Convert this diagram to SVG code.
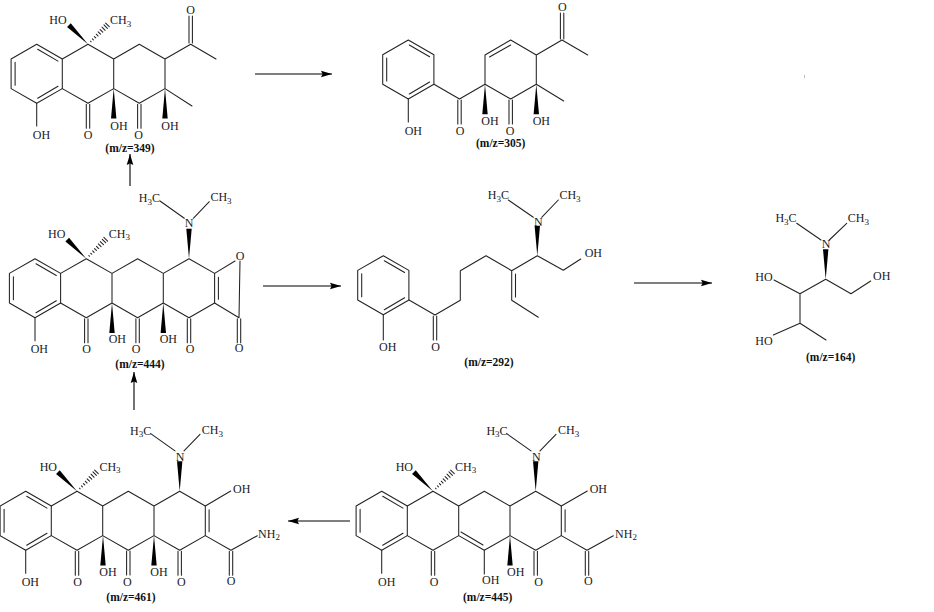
<svg xmlns="http://www.w3.org/2000/svg" xmlns:xlink="http://www.w3.org/1999/xlink" width="934" height="612" viewBox="0 0 934 612">
<style>
text{font-family:"Liberation Serif","Times New Roman",serif;font-size:12px;fill:#1a1a1a;text-anchor:middle}
text.m{font-size:11.5px;font-weight:bold;fill:#111}
tspan.s{font-size:9px}
.b{fill:none;stroke:#222;stroke-width:1.05;stroke-linejoin:round;stroke-linecap:round}
.f{fill:#000;stroke:none}
.a{fill:none;stroke:#000;stroke-width:1.1;marker-end:url(#ah)}
</style>
<defs>
<marker id="ah" markerUnits="userSpaceOnUse" markerWidth="12" markerHeight="8" refX="11" refY="4" orient="auto"><path d="M0,0.7L11,4L0,7.3L1.5,4z" fill="#000"/></marker>
<polygon id="w" class="f" points="0,0 30,-2.7 30,2.7"/>
<polygon id="w2" class="f" points="0,0 27,-2.6 27,2.6"/>
<path id="h" class="b" stroke-width=".9" d="M4,-.4V.4M7,-.7V.7M10,-1V1M13,-1.3V1.3M16,-1.6V1.6M19,-1.9V1.9M22,-2.2V2.2M25,-2.4V2.4M27.5,-2.6V2.6"/>
<path id="co" class="b" d="M-1.7,1V25M1.7,1V25"/>
<g id="benz">
<path class="b" d="M0,0L25.6,14.7V44.3L0,59L-25.6,44.3V14.7Z"/>
<path class="b" d="M1,5L21.3,16.8M21.3,42L1,54M-21.6,18V41"/>
</g>
<g id="skel">
<use href="#benz"/>
<path class="b" d="M25.6,14.7L51.3,0L77,14.7L102.6,0L128.3,14.7L154,0L179.6,14.7V44.3L154,59L128.3,44.3L102.6,59L77,44.3L51.3,59L25.6,44.3M77,14.7V44.3M128.3,14.7V44.3M183.4,18.5V40.5M0,59V82"/>
<path class="b" d="M125,-57.7L149.3,-40.4M174.3,-57L158.3,-40.4"/>
<use href="#co" x="51.3" y="59"/>
<use href="#co" x="154" y="59"/>
<use href="#w2" transform="translate(51.3,0) rotate(-135)"/>
<use href="#h" transform="translate(51.3,0) rotate(-45)"/>
<use href="#w" transform="translate(154,0) rotate(-90)"/>
<use href="#w" transform="translate(128.3,44.3) rotate(90)"/>
</g>
</defs>
<rect width="934" height="612" fill="#fff"/>
<rect x="804" y="75" width="1" height="3" fill="#bbb"/>

<g id="connectors">
<path class="a" d="M255,74H332"/>
<path class="a" d="M130,186V154"/>
<path class="a" d="M263,286H341"/>
<path class="a" d="M634,283H712"/>
<path class="a" d="M134,410V372"/>
<path class="a" d="M350,521H288"/>
</g>

<g id="mz349">
<use href="#benz" x="36.7" y="44.3"/>
<path class="b" d="M62.3,59L88,44.3L113.7,59L139.3,44.3L165,59L190.7,44.3L216,59M62.3,88.6L88,103.3L113.7,88.6L139.3,103.3L165,88.6L192,106M113.7,59V88.6M165,59V88.6M36.7,103.3V126M189,43V16M192.4,43V16"/>
<use href="#co" x="88" y="103.3"/>
<use href="#co" x="139.3" y="103.3"/>
<use href="#w" transform="translate(113.7,88.6) rotate(90)"/>
<use href="#w" transform="translate(165,88.6) rotate(90)"/>
<use href="#w2" transform="translate(88,44.3) rotate(-135)"/>
<use href="#h" transform="translate(88,44.3) rotate(-45)"/>
<text x="58" y="24">HO</text>
<text x="120.7" y="24">CH<tspan class="s" dy="2.5">3</tspan></text>
<text x="190.7" y="13.5">O</text>
<text x="41.5" y="139">OH</text>
<text x="88" y="139">O</text>
<text x="119" y="130">OH</text>
<text x="138.5" y="139">O</text>
<text x="170" y="130">OH</text>
<text class="m" x="130" y="152">(m/z=349)</text>
</g>

<g id="mz305">
<use href="#benz" x="408.3" y="40"/>
<path class="b" d="M434,84.3L459.5,99L485,84.3V55L510.7,40L536.3,55V84.3L510.7,99L485,84.3M536.3,84.3L563.7,101M536.3,55L562,40L587.7,55M489.5,57L510.7,45M408.3,99V122M560.4,39V13M563.8,39V13"/>
<use href="#co" x="459.5" y="99"/>
<use href="#co" x="510.7" y="99"/>
<use href="#w" transform="translate(485,84.3) rotate(90)"/>
<use href="#w" transform="translate(536.3,84.3) rotate(90)"/>
<text x="562.3" y="11">O</text>
<text x="413.3" y="134.7">OH</text>
<text x="460" y="134.7">O</text>
<text x="490" y="125">OH</text>
<text x="510" y="134.7">O</text>
<text x="541.3" y="125">OH</text>
<text class="m" x="500.7" y="146.7">(m/z=305)</text>
</g>

<g id="mz444">
<use href="#skel" x="35" y="258.7"/>
<use href="#co" x="137.6" y="317.7"/>
<use href="#w" transform="translate(112,303) rotate(90)"/>
<use href="#co" x="239" y="317.7"/>
<path class="b" d="M214.6,273.4L235,261M240,261L239,317.7L214.6,303"/>
<text x="149.3" y="202.3">H<tspan class="s" dy="2.5">3</tspan><tspan dy="-2.5">C</tspan></text>
<text x="221" y="201.3">CH<tspan class="s" dy="2.5">3</tspan></text>
<text x="189" y="227.3">N</text>
<text x="56.7" y="237.7">HO</text>
<text x="119.3" y="237.7">CH<tspan class="s" dy="2.5">3</tspan></text>
<text x="240" y="259.7">O</text>
<text x="39.3" y="353">OH</text>
<text x="86.7" y="353">O</text>
<text x="117.3" y="343.3">OH</text>
<text x="136" y="353">O</text>
<text x="168.3" y="343.3">OH</text>
<text x="190" y="353">O</text>
<text x="239" y="352.3">O</text>
<text class="m" x="140" y="367.7">(m/z=444)</text>
</g>

<g id="mz292">
<use href="#benz" x="383.3" y="255.7"/>
<path class="b" d="M409,300L435,315L460.3,300.3V270.7L486,255.7L511.7,270.7V300.3L538.3,317.3M515.5,274V297M511.7,270.7L537.3,255.7L563.3,270.3L580.7,259M383.3,315V340M508.3,200L533.3,217.3M558.3,200L541.7,217.3"/>
<use href="#co" x="435" y="315"/>
<use href="#w" transform="translate(537.3,255.7) rotate(-90)"/>
<text x="498.3" y="199">H<tspan class="s" dy="2.5">3</tspan><tspan dy="-2.5">C</tspan></text>
<text x="570" y="199">CH<tspan class="s" dy="2.5">3</tspan></text>
<text x="538.3" y="225.7">N</text>
<text x="593.3" y="257.3">OH</text>
<text x="387.7" y="350.7">OH</text>
<text x="435.7" y="350.7">O</text>
<text class="m" x="489" y="366">(m/z=292)</text>
</g>

<g id="mz164">
<path class="b" d="M796.7,223.3L821,240M846.7,223.3L829.3,240M774,280L800,293.7L825.7,279.3L851,293.7L870.7,281M800,293.7V323.3L826,340M800,323.3L773.3,335"/>
<use href="#w" transform="translate(825.7,279.3) rotate(-90)"/>
<text x="786" y="222.3">H<tspan class="s" dy="2.5">3</tspan><tspan dy="-2.5">C</tspan></text>
<text x="858.3" y="222.3">CH<tspan class="s" dy="2.5">3</tspan></text>
<text x="826" y="248">N</text>
<text x="764" y="280.7">HO</text>
<text x="881.7" y="280.3">OH</text>
<text x="764" y="345">HO</text>
<text class="m" x="830.7" y="360.7">(m/z=164)</text>
</g>

<g id="mz461">
<use href="#skel" x="25.7" y="491.3"/>
<use href="#co" x="128.3" y="550"/>
<use href="#w" transform="translate(103,535.6) rotate(90)"/>
<use href="#co" x="231" y="550.3"/>
<path class="b" d="M205.3,506L230.7,491M205.3,535.6L231,550.3L257.3,535.7"/>
<text x="140.7" y="434.7">H<tspan class="s" dy="2.5">3</tspan><tspan dy="-2.5">C</tspan></text>
<text x="212.3" y="434">CH<tspan class="s" dy="2.5">3</tspan></text>
<text x="180" y="460.7">N</text>
<text x="48.3" y="470.7">HO</text>
<text x="110" y="470.7">CH<tspan class="s" dy="2.5">3</tspan></text>
<text x="241.7" y="493">OH</text>
<text x="269" y="537.7">NH<tspan class="s" dy="2.5">2</tspan></text>
<text x="30.3" y="585.7">OH</text>
<text x="77.7" y="585.7">O</text>
<text x="108" y="576.3">OH</text>
<text x="127.3" y="585.7">O</text>
<text x="159" y="576.3">OH</text>
<text x="181.3" y="585.7">O</text>
<text x="231" y="584.7">O</text>
<text class="m" x="131" y="601">(m/z=461)</text>
</g>

<g id="mz445">
<use href="#skel" x="381.7" y="491.3"/>
<use href="#co" x="587" y="550.3"/>
<path class="b" d="M561.3,506L587.3,491M561.3,535.6L587,550.3L613.3,535.7M484.3,550.3V574M461,532L483,545"/>
<text x="497" y="434.7">H<tspan class="s" dy="2.5">3</tspan><tspan dy="-2.5">C</tspan></text>
<text x="568.7" y="434">CH<tspan class="s" dy="2.5">3</tspan></text>
<text x="536.3" y="460.7">N</text>
<text x="404.3" y="470.7">HO</text>
<text x="465.7" y="470.7">CH<tspan class="s" dy="2.5">3</tspan></text>
<text x="598.3" y="493">OH</text>
<text x="626" y="537.7">NH<tspan class="s" dy="2.5">2</tspan></text>
<text x="386.7" y="585.7">OH</text>
<text x="434" y="585.7">O</text>
<text x="490.7" y="584">OH</text>
<text x="515.7" y="576.3">OH</text>
<text x="538.7" y="585.7">O</text>
<text x="588.3" y="584.7">O</text>
<text class="m" x="487.7" y="601">(m/z=445)</text>
</g>
</svg>
